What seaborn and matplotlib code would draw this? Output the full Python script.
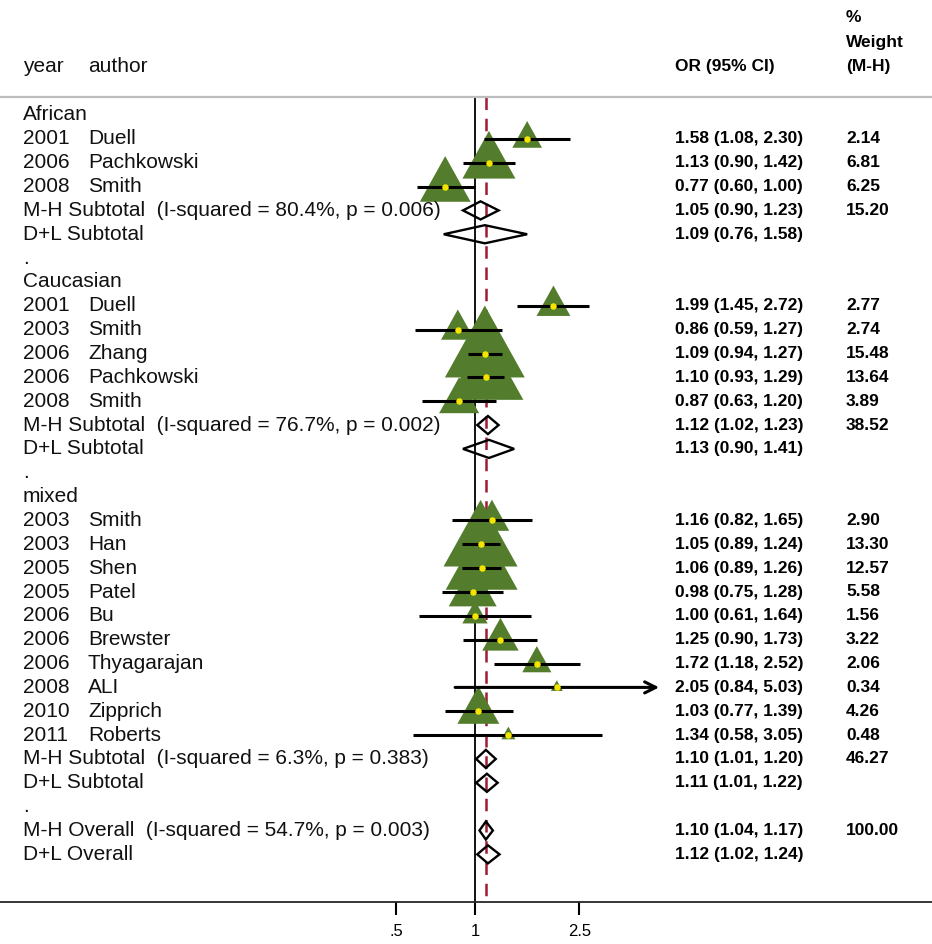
import numpy as np
import pandas as pd
import matplotlib
matplotlib.use("Agg")
import matplotlib.pyplot as plt
import matplotlib.transforms as mtransforms
from matplotlib.markers import MarkerStyle
from matplotlib.ticker import NullLocator
import seaborn as sns

# ----------------------------------------------------------------------
# Data
# ----------------------------------------------------------------------
groups = ["African", "Caucasian", "mixed"]

african_year = [2001, 2006, 2008]
african_author = ["Duell", "Pachkowski", "Smith"]
african_or = [1.58, 1.13, 0.77]
african_lo = [1.08, 0.90, 0.60]
african_hi = [2.30, 1.42, 1.00]
african_w = [2.14, 6.81, 6.25]

cauc_year = [2001, 2003, 2006, 2006, 2008]
cauc_author = ["Duell", "Smith", "Zhang", "Pachkowski", "Smith"]
cauc_or = [1.99, 0.86, 1.09, 1.10, 0.87]
cauc_lo = [1.45, 0.59, 0.94, 0.93, 0.63]
cauc_hi = [2.72, 1.27, 1.27, 1.29, 1.20]
cauc_w = [2.77, 2.74, 15.48, 13.64, 3.89]

mixed_year = [2003, 2003, 2005, 2005, 2006, 2006, 2006, 2008, 2010, 2011]
mixed_author = ["Smith", "Han", "Shen", "Patel", "Bu", "Brewster",
                "Thyagarajan", "ALI", "Zipprich", "Roberts"]
mixed_or = [1.16, 1.05, 1.06, 0.98, 1.00, 1.25, 1.72, 2.05, 1.03, 1.34]
mixed_lo = [0.82, 0.89, 0.89, 0.75, 0.61, 0.90, 1.18, 0.84, 0.77, 0.58]
mixed_hi = [1.65, 1.24, 1.26, 1.28, 1.64, 1.73, 2.52, 5.03, 1.39, 3.05]
mixed_w = [2.90, 13.30, 12.57, 5.58, 1.56, 3.22, 2.06, 0.34, 4.26, 0.48]

# M-H subtotal: OR, lo, hi, weight, I-squared, p ; D+L subtotal: OR, lo, hi
mh_sub = [(1.05, 0.90, 1.23, 15.20, 80.4, 0.006),
          (1.12, 1.02, 1.23, 38.52, 76.7, 0.002),
          (1.10, 1.01, 1.20, 46.27, 6.3, 0.383)]
dl_sub = [(1.09, 0.76, 1.58),
          (1.13, 0.90, 1.41),
          (1.11, 1.01, 1.22)]

mh_overall = (1.10, 1.04, 1.17, 100.00, 54.7, 0.003)
dl_overall = (1.12, 1.02, 1.24)

xticks = [0.5, 1, 2.5]
xtick_labels = [".5", "1", "2.5"]

study_data = [
    (african_year, african_author, african_or, african_lo, african_hi, african_w),
    (cauc_year, cauc_author, cauc_or, cauc_lo, cauc_hi, cauc_w),
    (mixed_year, mixed_author, mixed_or, mixed_lo, mixed_hi, mixed_w),
]

# ----------------------------------------------------------------------
# Build row table
# ----------------------------------------------------------------------
rows = []
for g, (yr, au, o, lo, hi, w), mh, dl in zip(groups, study_data, mh_sub, dl_sub):
    rows.append(dict(kind="header", label=g))
    for i in range(len(yr)):
        rows.append(dict(kind="study", year=yr[i], author=au[i],
                         est=o[i], lo=lo[i], hi=hi[i], w=w[i]))
    rows.append(dict(kind="mh", label=f"M-H Subtotal  (I-squared = {mh[4]:.1f}%, p = {mh[5]:.3f})",
                     est=mh[0], lo=mh[1], hi=mh[2], w=mh[3]))
    rows.append(dict(kind="dl", label="D+L Subtotal", est=dl[0], lo=dl[1], hi=dl[2], w=np.nan))
    rows.append(dict(kind="dot", label="."))
rows.append(dict(kind="mh", label=f"M-H Overall  (I-squared = {mh_overall[4]:.1f}%, p = {mh_overall[5]:.3f})",
                 est=mh_overall[0], lo=mh_overall[1], hi=mh_overall[2], w=mh_overall[3]))
rows.append(dict(kind="dl", label="D+L Overall", est=dl_overall[0], lo=dl_overall[1],
                 hi=dl_overall[2], w=np.nan))

df = pd.DataFrame(rows)
df["row"] = np.arange(len(df))
studies = df[df.kind == "study"]

# ----------------------------------------------------------------------
# Figure
# ----------------------------------------------------------------------
sns.set_style("white")
plt.rcParams["font.family"] = ["Liberation Sans", "DejaVu Sans"]

W, H = 932, 944
fig = plt.figure(figsize=(W / 100, H / 100), dpi=100)
ax = fig.add_axes([0, 0, 1, 1])

# pixel layout: x=1 at 475 px, 114 px per unit of ln(OR); row 0 at 115 px, 23.85 px per row
x0, kx = 475, 114
y0, ky = 115, 23.85
ax.set_xscale("log")
ax.set_xlim(np.exp(-x0 / kx), np.exp((W - x0) / kx))
ax.set_ylim((H - y0) / ky, -y0 / ky)

def prow(px):
    return (px - y0) / ky

y_sep = prow(97)
y_axis = prow(902)

# gray separator under header
ax.axhline(y_sep, color="#bdbdbd", lw=1.6)

# reference lines
ax.plot([1, 1], [y_sep, y_axis], color="black", lw=1.3, zorder=1)
ax.plot([mh_overall[0]] * 2, [y_sep, y_axis], color="#9e1b32", lw=1.8,
        dashes=(5, 3.5), zorder=1)

# weighted triangles (area ~ weight), point sits at the centroid
tri = MarkerStyle([(0, 1.2), (-1, -0.6), (1, -0.6), (0, 1.2)])
k = 307.7
wmin, wmax = studies.w.min(), studies.w.max()
sns.scatterplot(data=studies, x="est", y="row", size="w", sizes=(k * wmin, k * wmax),
                size_norm=(wmin, wmax), marker=tri, color="#537d2c", linewidth=0,
                legend=False, ax=ax, zorder=2)

# confidence intervals
for _, r in studies.iterrows():
    if r.hi > 5:
        ax.annotate("", xy=(r.hi, r.row), xytext=(r.lo, r.row),
                    arrowprops=dict(arrowstyle="->", lw=2.2, color="black",
                                    shrinkA=0, shrinkB=0, mutation_scale=20),
                    zorder=3)
    else:
        ax.plot([r.lo, r.hi], [r.row, r.row], color="black", lw=2.2,
                solid_capstyle="butt", zorder=3)

sns.scatterplot(data=studies, x="est", y="row", color="#f5e400", s=22,
                marker="o", linewidth=0, legend=False, ax=ax, zorder=4)

# pooled diamonds
h = 0.38
for _, r in df[df.kind.isin(["mh", "dl"])].iterrows():
    ax.fill([r.lo, r.est, r.hi, r.est], [r.row, r.row - h, r.row, r.row + h],
            facecolor="none", edgecolor="black", lw=1.7, joinstyle="miter", zorder=3)

# axis styling (after seaborn, which sets its own labels)
ax.set_xlabel("")
ax.set_ylabel("")
for s in ["left", "right", "top"]:
    ax.spines[s].set_visible(False)
ax.spines["bottom"].set_position(("data", y_axis))
ax.spines["bottom"].set_linewidth(1.3)
ax.set_yticks([])
ax.set_xticks(xticks)
ax.set_xticklabels(xtick_labels)
ax.xaxis.set_minor_locator(NullLocator())
ax.tick_params(axis="x", bottom=True, direction="out", length=9, width=1.5,
               pad=7, labelsize=12, colors="black")

# ----------------------------------------------------------------------
# Text columns
# ----------------------------------------------------------------------
tr = mtransforms.blended_transform_factory(ax.transAxes, ax.transData)
x_year, x_author, x_ci, x_w = 23 / W, 88 / W, 675 / W, 846 / W
lab_kw = dict(fontsize=15, va="center", ha="left", transform=tr, color="#111111")
num_kw = dict(fontsize=12.5, va="center", ha="left", transform=tr,
              fontweight="bold", color="black")

ax.text(x_year, prow(66), "year", **lab_kw)
ax.text(x_author, prow(66), "author", **lab_kw)
ax.text(x_ci, prow(66), "OR (95% CI)", **num_kw)
ax.text(x_w, prow(17), "%", **num_kw)
ax.text(x_w, prow(42), "Weight", **num_kw)
ax.text(x_w, prow(66), "(M-H)", **num_kw)

for _, r in df.iterrows():
    if r.kind == "study":
        ax.text(x_year, r.row, str(int(r.year)), **lab_kw)
        ax.text(x_author, r.row, r.author, **lab_kw)
    else:
        ax.text(x_year, r.row, r.label, **lab_kw)
    if r.kind in ("study", "mh", "dl"):
        ax.text(x_ci, r.row, f"{r.est:.2f} ({r.lo:.2f}, {r.hi:.2f})", **num_kw)
    if r.kind in ("study", "mh"):
        ax.text(x_w, r.row, f"{r.w:.2f}", **num_kw)

fig.savefig("out.png", dpi=100)
